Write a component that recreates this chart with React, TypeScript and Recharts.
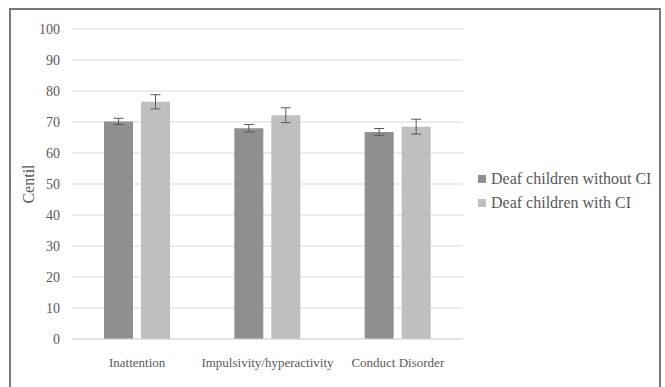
import { BarChart, Bar, XAxis, YAxis, CartesianGrid, ErrorBar } from "recharts";

// ── Data ───────────────────────────────────────────────────────────────────
const categories = ["Inattention", "Impulsivity/hyperactivity", "Conduct Disorder"];
const withoutCI = [70.2, 68.0, 66.8];
const withoutCIErr = [1.0, 1.2, 1.1];
const withCI = [76.5, 72.2, 68.5];
const withCIErr = [2.3, 2.4, 2.4];
const yTicks = [0, 10, 20, 30, 40, 50, 60, 70, 80, 90, 100];

const data = categories.map((c, i) => ({
  name: c,
  without: withoutCI[i],
  withoutErr: withoutCIErr[i],
  with: withCI[i],
  withErr: withCIErr[i],
}));

const colorDark = "#8f8f8f";
const colorLight = "#bfbfbf";
const textColor = "#595959";
const gridColor = "#d9d9d9";
const font = "'Liberation Serif', 'Times New Roman', serif";

// ── Legend (drawn outside the chart so it reserves no plot space) ──────────
function LegendBox() {
  const items = [
    { label: "Deaf children without CI", color: colorDark },
    { label: "Deaf children with CI", color: colorLight },
  ];
  return (
    <div style={{ position: "absolute", left: 478, top: 167, fontFamily: font, fontSize: 16, color: textColor }}>
      {items.map((it) => (
        <div key={it.label} style={{ display: "flex", alignItems: "center", height: 24, whiteSpace: "nowrap" }}>
          <span style={{ display: "inline-block", width: 8, height: 8, background: it.color, marginRight: 5 }} />
          {it.label}
        </div>
      ))}
    </div>
  );
}

export default function App() {
  return (
    <div style={{ position: "fixed", left: 0, top: 0, width: 665, height: 387, background: "#fff", overflow: "hidden" }}>
      <div
        style={{
          position: "absolute",
          left: 9,
          top: 8,
          width: 652,
          height: 400,
          border: "2px solid #7a7a7a",
          boxSizing: "border-box",
        }}
      />
      <div style={{ position: "absolute", left: 0, top: 0 }}>
        <BarChart
          width={665}
          height={387}
          data={data}
          margin={{ top: 29, right: 202, bottom: 18, left: 10 }}
          barSize={29}
          barGap={8}
        >
          <CartesianGrid vertical={false} stroke={gridColor} />
          <XAxis
            dataKey="name"
            height={30}
            tick={{ fontSize: 13, fill: textColor, fontFamily: font }}
            tickLine={false}
            axisLine={{ stroke: gridColor }}
            tickMargin={13}
            interval={0}
          />
          <YAxis
            width={62}
            domain={[0, 100]}
            ticks={yTicks}
            tick={{ fontSize: 14, fill: textColor, fontFamily: font }}
            tickLine={false}
            axisLine={false}
            tickMargin={6}
            label={({ viewBox }: any) => (
              <text
                x={viewBox.x + 18}
                y={viewBox.y + viewBox.height / 2}
                transform={`rotate(-90, ${viewBox.x + 18}, ${viewBox.y + viewBox.height / 2})`}
                textAnchor="middle"
                dominantBaseline="central"
                fontSize={16}
                fill={textColor}
                fontFamily={font}
              >
                Centil
              </text>
            )}
          />
          <Bar dataKey="without" name="Deaf children without CI" fill={colorDark} isAnimationActive={false}>
            <ErrorBar dataKey="withoutErr" width={5} stroke="#5a5a5a" strokeWidth={1} />
          </Bar>
          <Bar dataKey="with" name="Deaf children with CI" fill={colorLight} isAnimationActive={false}>
            <ErrorBar dataKey="withErr" width={5} stroke="#5a5a5a" strokeWidth={1} />
          </Bar>
        </BarChart>
      </div>
      <LegendBox />
    </div>
  );
}
